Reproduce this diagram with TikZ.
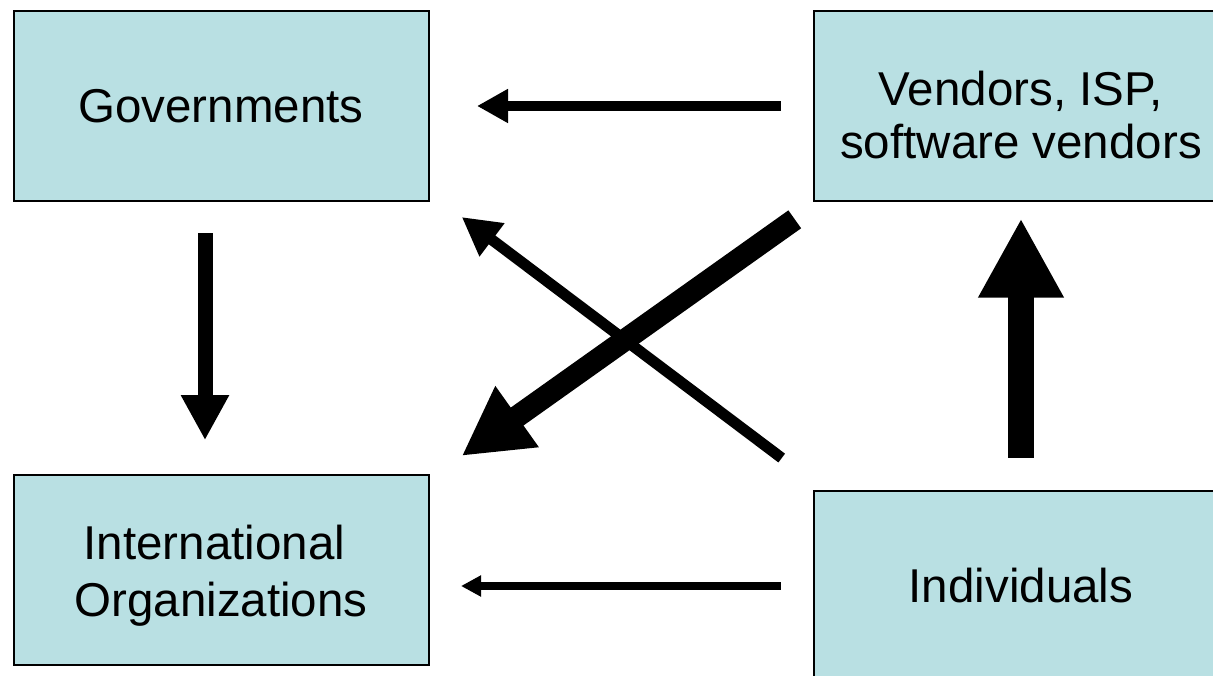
\documentclass[tikz,border=0pt]{standalone}
\usepackage{fontspec}
\setmainfont{Liberation Sans}
\usetikzlibrary{arrows.meta}
\definecolor{boxfill}{RGB}{185,224,227}
\begin{document}
\begin{tikzpicture}[x=1pt,y=-1pt,
  actor/.style={draw=black, line width=2pt, fill=boxfill, outer sep=0pt,
    inner sep=0pt, minimum width=415pt, minimum height=190pt},
  caption/.style={align=center, inner sep=0pt, text=black},
  flow/.style={draw=black, line cap=butt}]
\useasboundingbox (0,0) rectangle (1213,676);
\clip (0,0) rectangle (1213,676);

% the four parties
\node[actor] (gov)  at (221,106)   {};
\node[actor] (ven)  at (1021,106)  {};
\node[actor] (intl) at (221,569.5) {};
\node[actor] (ind)  at (1021,586)  {};

\node[caption, font=\fontsize{47.5pt}{52.3pt}\selectfont] (govtext) at (gov.center) {Governments};
\node[caption, font=\fontsize{47.5pt}{52.3pt}\selectfont] (ventext) at ([yshift=-9pt]ven.center)
  {Vendors, ISP,\\software vendors};
\node[caption, font=\fontsize{47.5pt}{57.4pt}\selectfont] (intltext) at ([yshift=-6pt]intl.center)
  {International\kern0.278em\\Organizations};
\node[caption, font=\fontsize{47.5pt}{52.3pt}\selectfont] (indtext) at (ind.center) {Individuals};

% influence arrows
\draw[flow, line width=10pt, -{Triangle[length=31pt,width=32pt]},
  shorten <=32.8pt, shorten >=48.5pt] (ven.west) -- (gov.east);
\draw[flow, line width=15pt, -{Triangle[length=45pt,width=45pt]},
  shorten <=32.3pt, shorten >=34.3pt] ([xshift=-16pt]gov.south) -- ([xshift=-16pt]intl.north);
\draw[flow, line width=8pt, -{Triangle[length=20pt,width=20pt]},
  shorten <=32.8pt, shorten >=32.5pt] (ind.west) -- ([yshift=-16.5pt]intl.east);
\draw[flow, line width=26.7pt, -{Triangle[length=79.4pt,width=80pt]},
  shorten <=33.3pt, shorten >=17.3pt] (ind.north) -- (ven.south);
\draw[flow, line width=22pt, -{Triangle[length=68pt,width=70pt]},
  shorten <=23pt, shorten >=40.7pt] ([yshift=-5pt]ven.south west) -- ([yshift=-5pt]intl.north east);
\draw[flow, line width=11pt, -{Triangle[length=38pt,width=39pt]},
  shorten <=39.8pt, shorten >=41.6pt] ([yshift=9pt]ind.north west) -- ([yshift=9pt]gov.south east);
\end{tikzpicture}
\end{document}
